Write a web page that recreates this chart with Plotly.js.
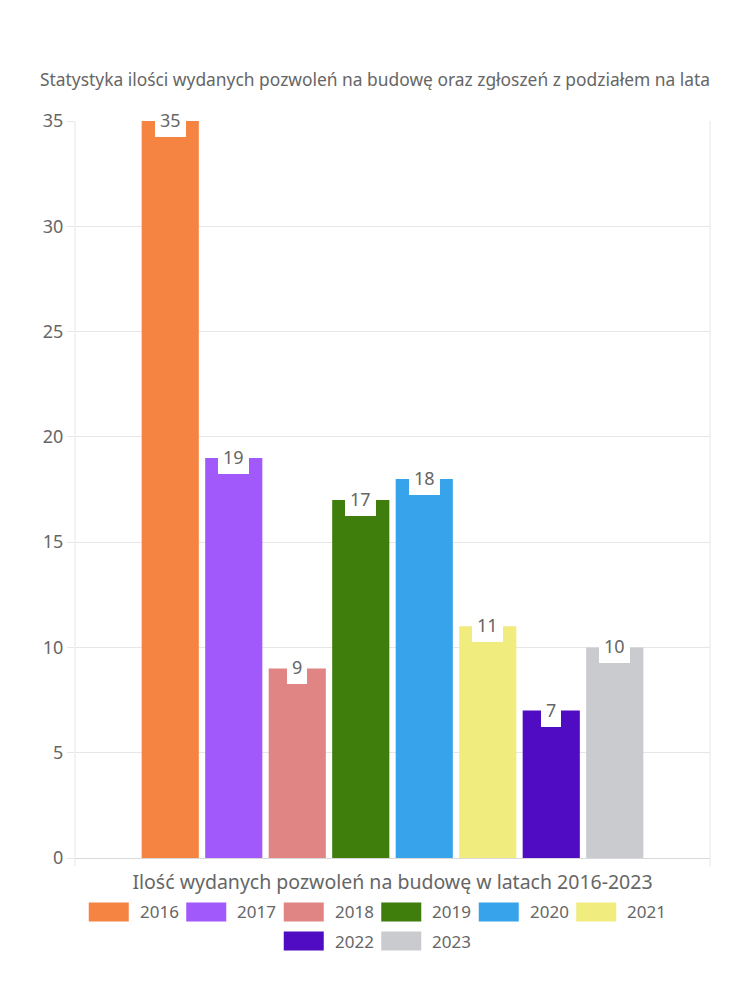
<!DOCTYPE html>
<html>
<head>
<meta charset="utf-8">
<script src="https://cdn.plot.ly/plotly-3.0.1.min.js"></script>
<style>html,body{margin:0;padding:0;background:#fff;}#chart{width:750px;height:1000px;}</style>
</head>
<body>
<div id="chart"></div>
<script>
const chartTitle = 'Statystyka ilości wydanych pozwoleń na budowę oraz zgłoszeń z podziałem na lata';
const categories = ['Ilość wydanych pozwoleń na budowę w latach 2016-2023'];
const years = ['2016', '2017', '2018', '2019', '2020', '2021', '2022', '2023'];
const values = [35, 19, 9, 17, 18, 11, 7, 10];
const colors = ['#F58442', '#A259FC', '#E08484', '#3F7D0C', '#37A3EB', '#F0EC7E', '#4F0CC2', '#C9CBCF'];
const yTicks = [0, 5, 10, 15, 20, 25, 30, 35];

const FONT = 'Noto Sans, sans-serif';
const TXT = '#666666';
const GRID = '#e6e6e6';

const W = 750, H = 1000;
const M = {l: 75, r: 40, t: 121, b: 142};
const PW = W - M.l - M.r, PH = H - M.t - M.b;
const px2x = p => (p - M.l) / PW;
const py2y = p => (H - M.b - p) / PH;

const bargap = 0.2, bargroupgap = 0.1;

const traces = years.map((yr, i) => ({
  type: 'bar',
  name: yr,
  x: categories,
  y: [values[i]],
  marker: {color: colors[i], line: {width: 0}},
  hovertemplate: yr + ': %{y}<extra></extra>'
}));

const annotations = [];
const shapes = [];
const n = years.length;
const slot = (1 - bargap) / n;
values.forEach((v, i) => {
  annotations.push({
    xref: 'x', yref: 'y',
    x: -0.5 * (1 - bargap) + (i + 0.5) * slot,
    y: v, yshift: 1,
    text: String(v), showarrow: false,
    xanchor: 'center', yanchor: 'middle',
    bgcolor: '#ffffff', borderpad: 5, borderwidth: 0,
    font: {family: FONT, size: 18, color: TXT}
  });
});

// frame lines (category boundaries) extending slightly below the axis
[0, 1].forEach(xp => {
  shapes.push({type: 'line', xref: 'paper', yref: 'paper', x0: xp, x1: xp,
    y0: py2y(866), y1: 1, line: {color: GRID, width: 1}, layer: 'below'});
});

// custom legend
const boxW = 40, boxH = 19, textOff = 49, pitch = 97.5, legCenter = 376;
const rows = [[0, 1, 2, 3, 4, 5], [6, 7]];
const rowY = [912, 941];
rows.forEach((row, r) => {
  const total = row.length * pitch - (pitch - 87);
  const start = legCenter - total / 2;
  row.forEach((idx, k) => {
    const bx = start + k * pitch;
    const cy = rowY[r];
    shapes.push({type: 'rect', xref: 'paper', yref: 'paper',
      x0: px2x(bx), x1: px2x(bx + boxW), y0: py2y(cy + boxH / 2), y1: py2y(cy - boxH / 2),
      fillcolor: colors[idx], line: {width: 0}});
    annotations.push({xref: 'paper', yref: 'paper', x: px2x(bx + textOff), y: py2y(cy),
      text: years[idx], showarrow: false, xanchor: 'left', yanchor: 'middle',
      font: {family: FONT, size: 17, color: TXT}});
  });
});

const layout = {
  width: W, height: H,
  margin: M,
  paper_bgcolor: '#ffffff', plot_bgcolor: '#ffffff',
  font: {family: FONT, color: TXT},
  title: {text: chartTitle, x: 0.5, xref: 'container', xanchor: 'center',
    y: 1 - 80 / H, yref: 'container', yanchor: 'middle',
    font: {family: FONT, size: 17.4, color: TXT}},
  showlegend: false,
  barmode: 'group', bargap: bargap, bargroupgap: bargroupgap,
  xaxis: {type: 'category', showgrid: false, zeroline: false,
    showline: true, linecolor: '#d9d9d9', linewidth: 1,
    ticks: '', ticklabelstandoff: 7,
    tickfont: {family: FONT, size: 19.5, color: TXT}, fixedrange: true},
  yaxis: {range: [0, 35], tickvals: yTicks, ticktext: yTicks.map(String),
    showgrid: true, gridcolor: GRID, gridwidth: 1, zeroline: false,
    showline: false, ticks: 'outside', ticklen: 7, tickcolor: GRID,
    tickfont: {family: FONT, size: 18, color: TXT}, fixedrange: true},
  annotations: annotations,
  shapes: shapes
};

Plotly.newPlot('chart', traces, layout, {displayModeBar: false, staticPlot: true});
</script>
</body>
</html>
